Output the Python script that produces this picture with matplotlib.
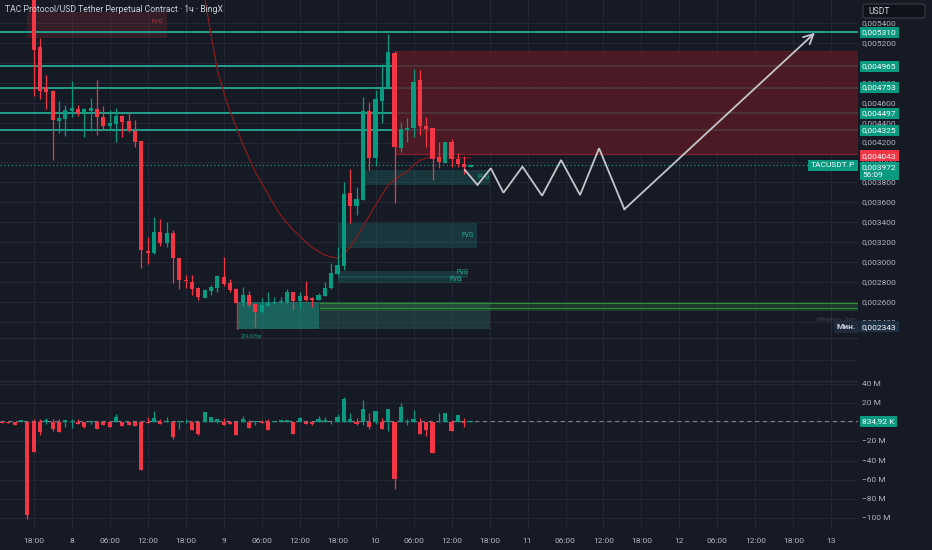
import matplotlib
matplotlib.use("Agg")
import matplotlib.pyplot as plt
import matplotlib.transforms as mtransforms
from matplotlib.patches import Rectangle, FancyBboxPatch
import numpy as np

plt.rcParams['font.family'] = ['Roboto', 'DejaVu Sans']

# ---------------- DATA ----------------
title = "TAC Protocol/USD Tether Perpetual Contract · 1ч · BingX"

# hourly candles (index 0 = first visible candle)
opens = [0.005700, 0.005164, 0.004759, 0.004716, 0.004420, 0.004434, 0.004518, 0.004541, 0.004508, 0.004515,
         0.004541, 0.004457, 0.004367, 0.004390, 0.004467, 0.004420, 0.004314, 0.004216, 0.003111, 0.003087,
         0.003302, 0.003194, 0.003294, 0.003043, 0.002816, 0.002802, 0.002736, 0.002635, 0.002712, 0.002742,
         0.002849, 0.002786, 0.002726, 0.002585, 0.002665, 0.002578, 0.002500, 0.002558, 0.002585, 0.002596,
         0.002598, 0.002699, 0.002605, 0.002655, 0.002635, 0.002618, 0.002658, 0.002736, 0.002876, 0.002960,
         0.003690, 0.003566, 0.003623, 0.004521, 0.004042, 0.004618, 0.004746, 0.005103, 0.004149, 0.004324,
         0.004344, 0.004829, 0.004370, 0.004344, 0.004055, 0.003998, 0.004203, 0.004032, 0.003985, 0.003955]
highs = [0.005800, 0.005248, 0.004879, 0.004725, 0.004618, 0.004578, 0.004819, 0.004578, 0.004551, 0.004645,
         0.004826, 0.004571, 0.004528, 0.004545, 0.004477, 0.004511, 0.004427, 0.004220, 0.003248, 0.003455,
         0.003429, 0.003405, 0.003322, 0.003043, 0.002869, 0.002869, 0.002746, 0.002726, 0.002769, 0.002869,
         0.003047, 0.002829, 0.002736, 0.002746, 0.002712, 0.002591, 0.002635, 0.002695, 0.002651, 0.002645,
         0.002729, 0.002702, 0.002702, 0.002812, 0.002645, 0.002685, 0.002802, 0.002987, 0.003154, 0.003807,
         0.003932, 0.003757, 0.004661, 0.004611, 0.004729, 0.004990, 0.005291, 0.005120, 0.004410, 0.004450,
         0.004937, 0.004930, 0.004460, 0.004350, 0.004209, 0.004209, 0.004236, 0.004098, 0.004065, 0.003980]
lows = [0.004668, 0.004635, 0.004535, 0.004022, 0.004293, 0.004266, 0.004454, 0.004470, 0.004259, 0.004320,
        0.004276, 0.004327, 0.004327, 0.004209, 0.004259, 0.004310, 0.004153, 0.002937, 0.002980, 0.003080,
        0.003161, 0.003154, 0.002792, 0.002726, 0.002736, 0.002668, 0.002618, 0.002635, 0.002668, 0.002702,
        0.002759, 0.002702, 0.002585, 0.002558, 0.002551, 0.002343, 0.002490, 0.002555, 0.002580, 0.002590,
        0.002578, 0.002518, 0.002535, 0.002611, 0.002551, 0.002615, 0.002655, 0.002730, 0.002870, 0.002920,
        0.003389, 0.003472, 0.003620, 0.003925, 0.003965, 0.004394, 0.004740, 0.003590, 0.004109, 0.004209,
        0.004253, 0.004276, 0.004159, 0.003824, 0.003942, 0.003990, 0.003958, 0.003958, 0.003884, 0.003950]
closes = [0.005131, 0.004722, 0.004712, 0.004424, 0.004447, 0.004528, 0.004545, 0.004497, 0.004541, 0.004548,
          0.004457, 0.004370, 0.004397, 0.004467, 0.004410, 0.004317, 0.004209, 0.003121, 0.003090, 0.003305,
          0.003188, 0.003294, 0.003037, 0.002819, 0.002806, 0.002732, 0.002645, 0.002719, 0.002752, 0.002856,
          0.002779, 0.002719, 0.002591, 0.002665, 0.002568, 0.002500, 0.002565, 0.002591, 0.002600, 0.002608,
          0.002699, 0.002605, 0.002655, 0.002618, 0.002618, 0.002668, 0.002742, 0.002886, 0.002967, 0.003683,
          0.003563, 0.003630, 0.004521, 0.004048, 0.004638, 0.004746, 0.005110, 0.004153, 0.004334, 0.004350,
          0.004812, 0.004367, 0.004337, 0.004032, 0.004002, 0.004203, 0.004035, 0.003982, 0.003955, 0.003972]

# moving average (starts at candle index 25)
ma_start = 25
ma_values = [0.006588, 0.006085, 0.005663, 0.005291, 0.004930, 0.004709, 0.004518, 0.004357, 0.004186, 0.004045,
             0.003905, 0.003794, 0.003683, 0.003573, 0.003472, 0.003392, 0.003322, 0.003261, 0.003201, 0.003145,
             0.003105, 0.003070, 0.003050, 0.003040, 0.003080, 0.003154, 0.003251, 0.003355, 0.003462, 0.003573,
             0.003673, 0.003774, 0.003824, 0.003874, 0.003905, 0.003975, 0.004020, 0.004045, 0.004055, 0.004058,
             0.004055, 0.004052, 0.004048, 0.004045, 0.004045]

# lower pane (values in millions), index -5 .. 69
delta_start = -5
delta_close = [-0.5, -0.3, -2.4, 2.8, -96.5, -30.6, -10.4, 2.8, -6.9, -9.7, 2.1, 1.4, -1.4, -5.2, 1.4, -7.3, -2.8,
               -4.5, 5.2, -4.2, -3.1, -3.5, -49.7, -1.0, 4.2, -1.7, 1.0, -14.9, 1.4, 0.7, -8.3, -12.5, 10.8, 5.2,
               3.5, -2.4, -1.7, -13.5, 3.8, -5.6, 1.4, -1.0, -7.6, 1.4, 2.1, 2.4, -12.5, 4.2, -2.1, -1.4, 3.8,
               2.4, 0.7, 5.2, 24.3, 3.5, -1.4, 13.9, -5.2, 11.8, -6.6, 13.9, -58.7, 16.0, 1.4, 3.5, -11.8, -8.0,
               -31.6, 0.7, 10.1, -8.7, 7.6, -0.3, 0.83]
delta_high = [0.3, 0.3, 0.0, 2.8, 0.0, 3.1, 3.1, 4.2, 3.1, 3.5, 2.1, 3.5, 3.5, 0.0, 2.4, 1.7, 0.0, 0.0, 8.3, 0.0,
              0.0, 0.0, 0.0, 5.9, 11.5, 3.5, 5.2, 0.0, 1.4, 3.1, 1.7, 0.0, 10.8, 5.2, 3.5, 4.2, 1.4, 0.0, 6.6,
              2.1, 1.4, 2.4, 3.8, 1.4, 2.1, 2.4, 0.0, 5.6, 1.7, 0.0, 6.3, 5.6, 2.4, 9.0, 26.4, 9.7, 4.9, 23.3,
              10.1, 11.8, 4.2, 13.9, 0.0, 19.8, 3.1, 12.8, 4.2, 0.0, 0.0, 10.1, 10.1, 2.4, 7.6, 4.2, 0.83]
delta_low = [-0.8, -0.5, -2.4, 0.0, -101.0, -30.6, -13.5, -2.1, -8.7, -9.7, -4.5, -6.3, -1.4, -6.3, -1.7, -7.3,
             -2.8, -4.5, 0.0, -4.2, -3.1, -3.5, -49.7, -1.0, 0.0, -1.7, 0.0, -17.4, -6.9, -1.0, -8.3, -13.5, 0.0,
             0.0, -1.0, -2.4, -1.7, -13.5, 0.0, -5.6, -2.8, -1.0, -7.6, 0.0, 0.0, 0.0, -12.5, 0.0, -2.1, -2.8,
             0.0, 0.0, -2.1, 0.0, 0.0, 0.0, -2.8, -2.8, -6.9, -1.7, -6.6, -8.7, -69.1, 0.0, -3.1, 0.0, -11.8,
             -13.9, -32.3, 0.0, 0.0, -8.7, 0.0, -4.5, 0.0]

# horizontal levels
levels = [0.005310, 0.004965, 0.004753, 0.004497, 0.004325]
current_price = 0.003972
red_label_price = 0.004043
min_price = 0.002343
last_delta_label = "834,92 K"

# projection path (candle index, price)
proj_x = [68.1, 70.1, 72.2, 74.2, 77.2, 80.3, 83.3, 86.3, 89.3, 93.3, 123.4]
proj_y = [0.003925, 0.003774, 0.003942, 0.003696, 0.003958, 0.003666, 0.004025, 0.003673, 0.004143, 0.003530, 0.005304]

# zones: (x0, x1, p_low, p_high)
red_supply = (57.1, 131.0, 0.004082, 0.005124)
red_fvg = (-1.06, 21.06, 0.005251, 0.005513)
green_fvgs = [(52.0, 72.1, 0.003774, 0.003925),
              (48.1, 70.1, 0.003144, 0.003389),
              (48.1, 68.6, 0.002840, 0.002913),
              (48.1, 67.6, 0.002789, 0.002860)]
green_fvg_labels = [(71.0, 0.003850), (68.6, 0.003266), (67.7, 0.002895), (66.7, 0.002825)]
demand_strip = (45.3, 131.0, 0.002511, 0.002601)
demand_lines = [0.002585, 0.002535]
teal_box = (32.1, 45.1, 0.002327, 0.002595)
dim_box = (45.1, 72.1, 0.002327, 0.002595)

price_ticks = [0.0024, 0.0026, 0.0028, 0.0030, 0.0032, 0.0034, 0.0036, 0.0038, 0.0040, 0.0042,
               0.0044, 0.0046, 0.0048, 0.0050, 0.0052, 0.0054]
delta_ticks = [40, 20, -20, -40, -60, -80, -100]
time_labels = ["18:00", "8", "06:00", "12:00", "18:00", "9", "06:00", "12:00", "18:00", "10", "06:00",
               "12:00", "18:00", "11", "06:00", "12:00", "18:00", "12", "06:00", "12:00", "18:00", "13"]
time_step = 6

# ---------------- STYLE ----------------
BG = '#161a25'
GRID = '#232733'
UP = '#089981'
DOWN = '#f23645'
LVL = '#22ab94'
TXT = '#b2b5be'
W, H = 932, 550
PANE_R = 858

fig = plt.figure(figsize=(W / 100, H / 100), dpi=100, facecolor=BG)


def pane(top, bottom):
    a = fig.add_axes([0, 1 - bottom / H, PANE_R / W, (bottom - top) / H])
    a.set_facecolor(BG)
    for s in a.spines.values():
        s.set_visible(False)
    a.set_xticks([])
    a.set_yticks([])
    a.set_xlim(-5.32, 130.2)
    return a


ax = pane(0, 338)
axm = pane(338, 381)
axl = pane(381, 530)

ax.set_ylim(0.002236, 0.005633)
axl.set_ylim(-112.2, 43.0)
axm.set_ylim(0, 1)

tick_idx = np.arange(len(time_labels)) * time_step
for a in (ax, axm, axl):
    for t in tick_idx:
        a.axvline(t, color=GRID, lw=0.8, zorder=0)
for p in price_ticks:
    ax.axhline(p, color=GRID, lw=0.8, zorder=0)
for d in delta_ticks + [0]:
    axl.axhline(d, color=GRID, lw=0.8, zorder=0)
axm.axhline(0.5, color=GRID, lw=0.8, zorder=0)
for a in (axm, axl):
    a.axhline(a.get_ylim()[1], color='#2a2e39', lw=1.0, zorder=0)

# ---------------- MAIN PANE ----------------
idx = np.arange(len(opens))
o = np.array(opens); c = np.array(closes); hi = np.array(highs); lo = np.array(lows)
cols = np.where(c >= o, UP, DOWN)


def rect(a, z, fc, alpha, zo, ec='none', lw=0):
    a.add_patch(Rectangle((z[0], z[2]), z[1] - z[0], z[3] - z[2], fc=fc, alpha=alpha, ec=ec, lw=lw, zorder=zo))


rect(ax, red_fvg, '#f23645', 0.15, 1)
ax.text(19.6, 0.005412, "FVG", color='#c8323f', fontsize=4.5, ha='center', va='center', zorder=2)
for z in green_fvgs:
    rect(ax, z, '#22ab94', 0.2, 1)
for (lx, ly) in green_fvg_labels:
    ax.text(lx, ly, "FVG", color='#22ab94', fontsize=4.8, ha='center', va='center', zorder=2)
rect(ax, teal_box, '#1e8a7c', 0.65, 1)
ax.plot([teal_box[0], teal_box[0]], [teal_box[2], teal_box[3]], color='#c0303c', lw=1.0, zorder=2)
rect(ax, dim_box, '#2a5c5c', 0.45, 1)
rect(ax, demand_strip, '#2f7d32', 0.3, 1)
for dl in demand_lines:
    ax.plot([demand_strip[0], demand_strip[1]], [dl, dl], color='#2e8b3a', lw=0.8, zorder=1)
ax.text(32.7, 0.002250, "234,605м", color='#1e8a7c', fontsize=3.5, ha='left', va='center', zorder=2)

# levels
for lv in levels:
    ax.axhline(lv, color=LVL, lw=1.3, zorder=2)

rect(ax, red_supply, '#5a1a24', 0.8, 3)
ax.plot([red_supply[0], red_supply[1]], [red_supply[2], red_supply[2]], color='#8a1e2a', lw=0.8, zorder=3)
ax.plot([red_supply[0], red_supply[1]], [red_supply[3], red_supply[3]], color='#5a1a24', lw=0.6, zorder=3)

# current price dotted line
ax.axhline(current_price, color=LVL, lw=0.9, ls=(0, (1, 2)), alpha=0.8, zorder=2)

# MA
ma_x = np.arange(ma_start, ma_start + len(ma_values))
ax.plot(ma_x, ma_values, color='#861b1b', lw=0.9, zorder=4)

# candles
ax.vlines(idx, lo, hi, colors=cols, lw=0.9, zorder=5)
body = np.maximum(np.abs(c - o), 0.000006)
ax.bar(idx, body, bottom=np.minimum(o, c), width=0.66, color=cols, zorder=6, linewidth=0)

# projection
ax.plot(proj_x[:-1], proj_y[:-1], color='#c4c6cc', lw=1.3, zorder=7, solid_joinstyle='miter')
ax.annotate("", xy=(proj_x[-1], proj_y[-1]), xytext=(proj_x[-2], proj_y[-2]),
            arrowprops=dict(arrowstyle='->,head_length=0.7,head_width=0.35', color='#c4c6cc', lw=1.3,
                            shrinkA=0, shrinkB=0), zorder=7)

# title & watermark
ax.text(5 / PANE_R, 1 - 10 / 338, title, transform=ax.transAxes, color='#d1d4dc', fontsize=6.2,
        ha='left', va='center', zorder=9)
ax.text(127.0, 0.002420, "@Nephew_Sam_", color='#3c404c', fontsize=4.3, ha='center', va='center', zorder=2)

# ---------------- RIGHT AXIS LABELS ----------------
def fmt_price(p):
    return ("%.6f" % p).replace('.', ',')


def rlabel(a, y, s, fc=None, color=TXT, xpx=862, ha='left', zo=10, weight='normal', size=6.0):
    tr = mtransforms.blended_transform_factory(a.transAxes, a.transData)
    t = a.text(xpx / PANE_R, y, s, transform=tr, ha=ha, va='center', fontsize=size, color=color,
               clip_on=False, zorder=zo, fontweight=weight, linespacing=1.25)
    if fc:
        t.set_bbox(dict(boxstyle='square,pad=0.3', fc=fc, ec='none'))
    return t


for p in price_ticks:
    rlabel(ax, p, fmt_price(p), zo=8)
for lv in levels:
    rlabel(ax, lv, fmt_price(lv), fc=UP, color='white', zo=11)
rlabel(ax, red_label_price + 0.000025, fmt_price(red_label_price), fc=DOWN, color='white', zo=11)
rlabel(ax, current_price - 0.000060, fmt_price(current_price) + "\n56:09", fc=UP, color='white', zo=12)
rlabel(ax, current_price, "TACUSDT.P", fc=UP, color='white', xpx=855, ha='right', zo=12)
rlabel(ax, min_price + 0.000005, fmt_price(min_price), fc='#1d3245', color='white', zo=12)
rlabel(ax, min_price + 0.000005, "Мин.", fc='#1f2b3b', color='#d1d4dc', xpx=856, ha='right', zo=12,
       weight='bold')

for d in delta_ticks:
    s = ("%d M" % d).replace('-', '\u2212')
    rlabel(axl, d, s, zo=8)
rlabel(axl, delta_close[-1], last_delta_label, fc=UP, color='white', zo=11)

# USDT box
fig.patches.append(FancyBboxPatch((863 / W, 1 - 18 / H), 62 / W, 14 / H, boxstyle='round,pad=0,rounding_size=0.004',
                                  transform=fig.transFigure, fc='#0f1219', ec='#3a3e4a', lw=0.8, zorder=20))
fig.text(868 / W, 1 - 11 / H, "USDT", color='#d1d4dc', fontsize=6.2, ha='left', va='center', zorder=21)

# ---------------- LOWER PANE ----------------
didx = np.arange(delta_start, delta_start + len(delta_close))
dc = np.array(delta_close)
dcols = np.where(dc >= 0, UP, DOWN)
axl.vlines(didx, delta_low, delta_high, colors=dcols, lw=0.9, zorder=3)
dh = np.where(np.abs(dc) < 0.6, 0.6 * np.sign(dc + 1e-9), dc)
axl.bar(didx, dh, bottom=0, width=0.66, color=dcols, zorder=4, linewidth=0)
axl.axhline(delta_close[-1], color='#787b86', lw=0.8, ls=(0, (4, 3)), zorder=2)

# ---------------- TIME AXIS ----------------
for t, lab in zip(tick_idx, time_labels):
    xp = 33.7 + 6.33 * t
    fig.text(xp / W, 1 - 541 / H, lab, color=TXT, fontsize=6.0, ha='center', va='center')

fig.savefig("out.png", dpi=100, facecolor=BG)
